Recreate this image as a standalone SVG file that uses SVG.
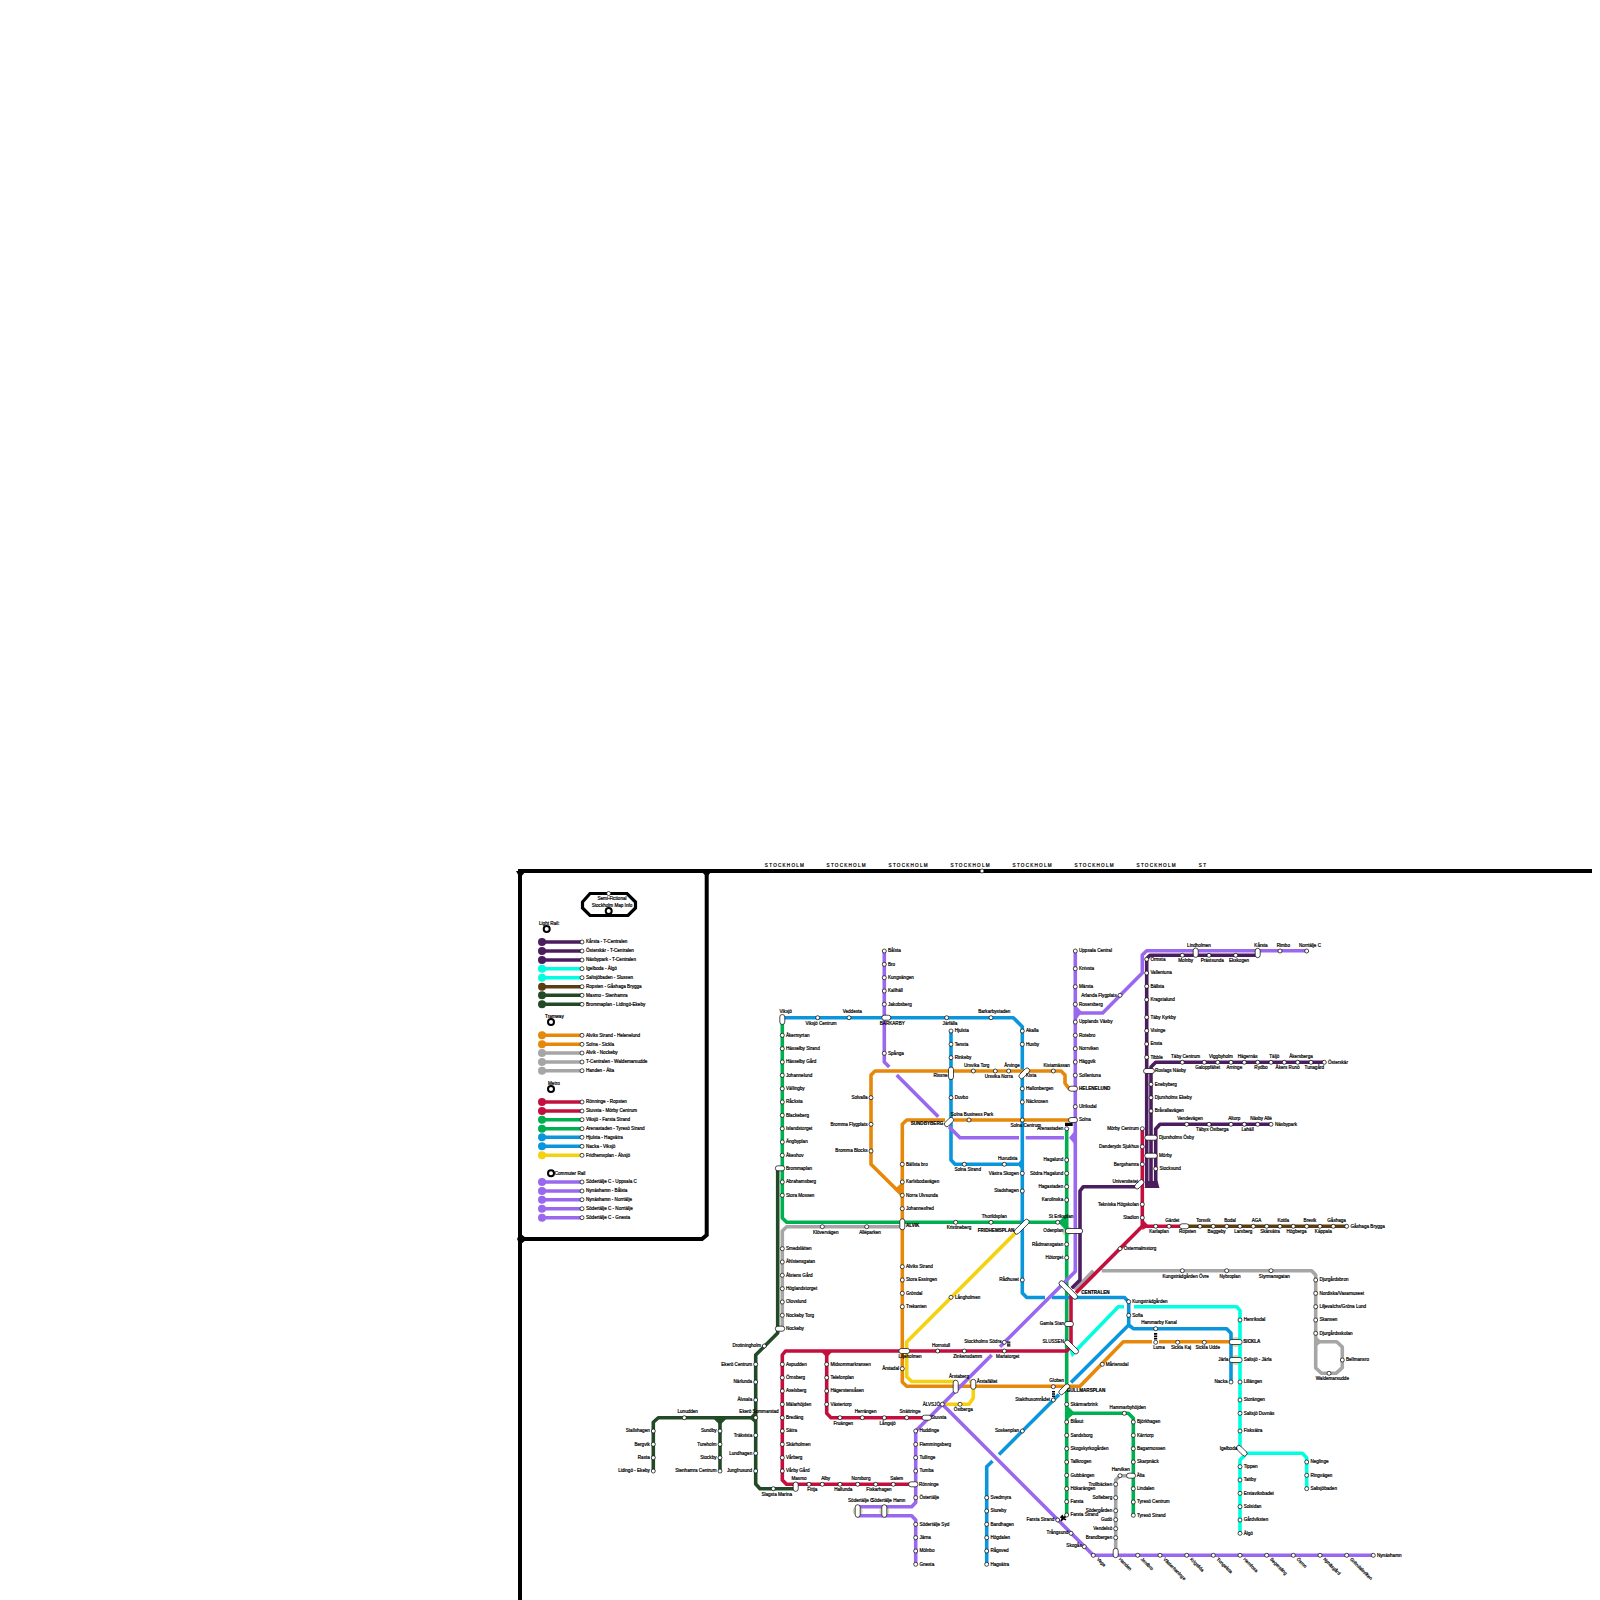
<svg xmlns="http://www.w3.org/2000/svg" width="1600" height="1600" viewBox="0 0 1600 1600">
<style>
text{font-family:"Liberation Sans",Arial,sans-serif;font-size:4.6px;fill:#000;stroke:#000;stroke-width:.2}
.r{text-anchor:start}.e{text-anchor:end}.m{text-anchor:middle}
.b{font-weight:bold}
.s{fill:#fff;stroke:#000;stroke-width:.7}
.p{fill:#fff;stroke:#000;stroke-width:.7}
.ring{fill:#fff;stroke:#000;stroke-width:2}
.l{fill:none;stroke-width:3.6;stroke-linejoin:round}
.f{fill:none;stroke:#000;stroke-width:4}
.st{font-size:4.6px;letter-spacing:1.25px;text-anchor:middle}
.dp{stroke:#4b1d5e}.cy{stroke:#00ffe1}.br{stroke:#5c3d12}.dg{stroke:#234a26}.or{stroke:#e6880a}.gy{stroke:#a6a6a6}.rd{stroke:#c20f3e}.gn{stroke:#00b050}.bl{stroke:#0b96dc}.ye{stroke:#f5d210}.pu{stroke:#9a68ee}
.fdp{fill:#4b1d5e}.fcy{fill:#00ffe1}.fbr{fill:#5c3d12}.fdg{fill:#234a26}.for{fill:#e6880a}.fgy{fill:#a6a6a6}.frd{fill:#c20f3e}.fgn{fill:#00b050}.fbl{fill:#0b96dc}.fye{fill:#f5d210}.fpu{fill:#9a68ee}
.h{fill:#cfdcaa}
</style>

<g id="frame">
<path class="f" d="M520 1600V871H1592"/>
<path class="f" d="M706.7 871V1235L702 1239H520"/>
<polygon fill="#000" points="516,871 526,871 520,878"/>
<polygon fill="#000" points="701,871 712,871 706.7,877"/>
<polygon fill="#000" points="520,1233 527,1239 520,1245 517,1239"/>
<circle class="s" cx="982" cy="871" r="2"/>
<text class="st" x="785" y="866.5">STOCKHOLM</text>
<text class="st" x="846.7" y="866.5">STOCKHOLM</text>
<text class="st" x="908.7" y="866.5">STOCKHOLM</text>
<text class="st" x="970.7" y="866.5">STOCKHOLM</text>
<text class="st" x="1032.7" y="866.5">STOCKHOLM</text>
<text class="st" x="1094.7" y="866.5">STOCKHOLM</text>
<text class="st" x="1156.7" y="866.5">STOCKHOLM</text>
<text class="st" x="1203" y="866.5">ST</text>
</g>

<g id="legend">
<g id="legend-title">
<path d="M590 893.5H627L635.5 902V908L628 915.5H590L582.5 908V902Z" fill="#fff" stroke="#000" stroke-width="3.2"/>
<circle class="s" cx="608.7" cy="893.5" r="2"/>
<circle class="ring" cx="608.7" cy="911" r="3"/>
<text class="m" x="612" y="900">Semi-Fictional</text>
<text class="m" x="612" y="906.6">Stockholm Map Info</text>
</g>
<g id="legend-light"><circle class="ring" cx="546.7" cy="929" r="3"/><text class="r" x="539" y="924.6">Light Rail:</text></g>
<g id="legend-tram"><circle class="ring" cx="551" cy="1022" r="3"/><text class="r" x="545" y="1017.6">Tramway</text></g>
<g id="legend-metro"><circle class="ring" cx="551" cy="1089" r="3"/><text class="r" x="548" y="1084.6">Metro</text></g>
<g id="legend-comm"><circle class="ring" cx="551" cy="1173.3" r="3"/><text class="r" x="554.7" y="1174.7">Commuter Rail</text></g>
<g id="k1"><path class="l dp" d="M542 942H582"/><circle class="fdp" cx="542" cy="942" r="4"/><circle class="s" cx="582" cy="942" r="2"/><text class="r" x="586" y="943.4">Kårsta - T-Centralen</text></g>
<g id="k2"><path class="l dp" d="M542 951H582"/><circle class="fdp" cx="542" cy="951" r="4"/><circle class="s" cx="582" cy="951" r="2"/><text class="r" x="586" y="952.4">Österskär - T-Centralen</text></g>
<g id="k3"><path class="l dp" d="M542 960H582"/><circle class="fdp" cx="542" cy="960" r="4"/><circle class="s" cx="582" cy="960" r="2"/><text class="r" x="586" y="961.4">Näsbypark - T-Centralen</text></g>
<g id="k4"><path class="l cy" d="M542 968.7H582"/><circle class="fcy" cx="542" cy="968.7" r="4"/><circle class="s" cx="582" cy="968.7" r="2"/><text class="r" x="586" y="970.1">Igelboda - Älgö</text></g>
<g id="k5"><path class="l cy" d="M542 977.7H582"/><circle class="fcy" cx="542" cy="977.7" r="4"/><circle class="s" cx="582" cy="977.7" r="2"/><text class="r" x="586" y="979.1">Saltsjöbaden - Slussen</text></g>
<g id="k6"><path class="l br" d="M542 986.7H582"/><circle class="fbr" cx="542" cy="986.7" r="4"/><circle class="s" cx="582" cy="986.7" r="2"/><text class="r" x="586" y="988.1">Ropsten - Gåshaga Brygga</text></g>
<g id="k7"><path class="l dg" d="M542 995.3H582"/><circle class="fdg" cx="542" cy="995.3" r="4"/><circle class="s" cx="582" cy="995.3" r="2"/><text class="r" x="586" y="996.7">Masmo - Stenhamra</text></g>
<g id="k8"><path class="l dg" d="M542 1004.3H582"/><circle class="fdg" cx="542" cy="1004.3" r="4"/><circle class="s" cx="582" cy="1004.3" r="2"/><text class="r" x="586" y="1005.7">Brommaplan - Lidingö-Ekeby</text></g>
<g id="k9"><path class="l or" d="M542 1035.3H582"/><circle class="for" cx="542" cy="1035.3" r="4"/><circle class="s" cx="582" cy="1035.3" r="2"/><text class="r" x="586" y="1036.7">Alviks Strand - Helenelund</text></g>
<g id="k10"><path class="l or" d="M542 1044.3H582"/><circle class="for" cx="542" cy="1044.3" r="4"/><circle class="s" cx="582" cy="1044.3" r="2"/><text class="r" x="586" y="1045.7">Solna - Sickla</text></g>
<g id="k11"><path class="l gy" d="M542 1053H582"/><circle class="fgy" cx="542" cy="1053" r="4"/><circle class="s" cx="582" cy="1053" r="2"/><text class="r" x="586" y="1054.4">Alvik - Nockeby</text></g>
<g id="k12"><path class="l gy" d="M542 1062H582"/><circle class="fgy" cx="542" cy="1062" r="4"/><circle class="s" cx="582" cy="1062" r="2"/><text class="r" x="586" y="1063.4">T-Centralen - Waldemarsudde</text></g>
<g id="k13"><path class="l gy" d="M542 1070.7H582"/><circle class="fgy" cx="542" cy="1070.7" r="4"/><circle class="s" cx="582" cy="1070.7" r="2"/><text class="r" x="586" y="1072.1">Handen - Älta</text></g>
<g id="k14"><path class="l rd" d="M542 1102H582"/><circle class="frd" cx="542" cy="1102" r="4"/><circle class="s" cx="582" cy="1102" r="2"/><text class="r" x="586" y="1103.4">Rönninge - Ropsten</text></g>
<g id="k15"><path class="l rd" d="M542 1111H582"/><circle class="frd" cx="542" cy="1111" r="4"/><circle class="s" cx="582" cy="1111" r="2"/><text class="r" x="586" y="1112.4">Stuvsta - Mörby Centrum</text></g>
<g id="k16"><path class="l gn" d="M542 1119.7H582"/><circle class="fgn" cx="542" cy="1119.7" r="4"/><circle class="s" cx="582" cy="1119.7" r="2"/><text class="r" x="586" y="1121.1">Viksjö - Farsta Strand</text></g>
<g id="k17"><path class="l gn" d="M542 1128.7H582"/><circle class="fgn" cx="542" cy="1128.7" r="4"/><circle class="s" cx="582" cy="1128.7" r="2"/><text class="r" x="586" y="1130.1">Arenastaden - Tyresö Strand</text></g>
<g id="k18"><path class="l bl" d="M542 1137.3H582"/><circle class="fbl" cx="542" cy="1137.3" r="4"/><circle class="s" cx="582" cy="1137.3" r="2"/><text class="r" x="586" y="1138.7">Hjulsta - Hagsätra</text></g>
<g id="k19"><path class="l bl" d="M542 1146.3H582"/><circle class="fbl" cx="542" cy="1146.3" r="4"/><circle class="s" cx="582" cy="1146.3" r="2"/><text class="r" x="586" y="1147.7">Nacka - Viksjö</text></g>
<g id="k20"><path class="l ye" d="M542 1155.3H582"/><circle class="fye" cx="542" cy="1155.3" r="4"/><circle class="s" cx="582" cy="1155.3" r="2"/><text class="r" x="586" y="1156.7">Fridhemsplan - Älvsjö</text></g>
<g id="k21"><path class="l pu" d="M542 1182H582"/><circle class="fpu" cx="542" cy="1182" r="4"/><circle class="s" cx="582" cy="1182" r="2"/><text class="r" x="586" y="1183.4">Södertälje C - Uppsala C</text></g>
<g id="k22"><path class="l pu" d="M542 1191H582"/><circle class="fpu" cx="542" cy="1191" r="4"/><circle class="s" cx="582" cy="1191" r="2"/><text class="r" x="586" y="1192.4">Nynäshamn - Bålsta</text></g>
<g id="k23"><path class="l pu" d="M542 1199.7H582"/><circle class="fpu" cx="542" cy="1199.7" r="4"/><circle class="s" cx="582" cy="1199.7" r="2"/><text class="r" x="586" y="1201.1">Nynäshamn - Norrtälje</text></g>
<g id="k24"><path class="l pu" d="M542 1208.7H582"/><circle class="fpu" cx="542" cy="1208.7" r="4"/><circle class="s" cx="582" cy="1208.7" r="2"/><text class="r" x="586" y="1210.1">Södertälje C - Norrtälje</text></g>
<g id="k25"><path class="l pu" d="M542 1217.7H582"/><circle class="fpu" cx="542" cy="1217.7" r="4"/><circle class="s" cx="582" cy="1217.7" r="2"/><text class="r" x="586" y="1219.1">Södertälje C - Gnesta</text></g>
</g>

<g id="connectors">
<ellipse class="h" cx="1067" cy="1231" rx="5" ry="5"/>
<ellipse class="h" cx="1235.7" cy="1342" rx="6" ry="5"/>
<ellipse class="h" cx="1235.7" cy="1360" rx="6" ry="5"/>
<ellipse class="h" cx="857.7" cy="1511" rx="5" ry="5"/>
<ellipse class="h" cx="884.3" cy="1511" rx="5" ry="5"/>
<path class="l dg" d="M777.7 1168.3V1333L755.7 1355V1484L760 1488.7H795.7"/>
<path class="l dg" d="M755.7 1417.7H658.3L653.3 1422.3V1471"/>
<path class="l dg" d="M720 1417.7V1471"/>
<polygon class="fdg" points="712.5,1417.7 720,1425 727.5,1417.7"/>
<polygon class="fdg" points="749,1417.7 755.7,1411 755.7,1424"/>
<path class="l gn" d="M782.3 1019V1218L786.7 1222.3H1066.7"/>
<path class="l gn" d="M1066.7 1128.7V1515"/>
<path class="l gn" d="M1066.7 1413.3H1128.3L1133.3 1418.3V1515.3"/>
<polygon class="fgn" points="1058,1222.3 1066.7,1214 1066.7,1231"/>
<polygon class="fgn" points="1066.7,1405 1075,1413.3 1066.7,1420"/>
<path class="l gy" d="M900 1226.7H786.7L782.3 1231V1328.7"/>
<path class="l gy" d="M1075 1290L1093.3 1270.7M1101.7 1270.7H1311.7L1315.7 1275V1368L1321.7 1373.3H1336L1342.3 1367.7V1347L1336.7 1341.7H1316"/>
<polygon class="fgy" points="1315.7,1336 1322,1341.7 1315.7,1347"/>
<path class="l gy" d="M1115.7 1553V1480L1120 1475.7H1131"/>
<path class="l bl" d="M782.3 1017.7H1013.3L1022.3 1026.7V1293L1026.7 1297.5H1045M1051.7 1297.5H1124.5L1128.7 1302V1325"/>
<path class="l bl" d="M951 1031V1160L955 1164.3H1018"/>
<polygon class="fbl" points="1016.7,1164.3 1022.3,1158.7 1022.3,1169.5"/>
<path class="l bl" d="M1128.7 1325L1133.3 1328.7H1226.7L1231 1333.3V1382"/>
<path class="l bl" d="M1128.7 1325L1071 1382.5M1059 1394.5L999 1454.5M992.5 1461L986.7 1466.7V1564.3"/>
<path class="l or" d="M1073 1088.7H1069L1065 1083.3V1075L1061 1071H875L871 1075V1164.3L902 1195"/>
<polygon class="for" points="896,1188 902.3,1182 902.3,1195"/>
<path class="l or" d="M1073 1120H954M945 1120H906.7L902.3 1124.3V1382L906.7 1386.3H1080L1123.3 1341.7H1152M1159 1341.7H1235.7"/>
<path class="l ye" d="M1021.7 1226.7L906.7 1342V1376.7L911.7 1381.5H955M969 1381.5H973.3V1398L969 1404.3H942.3"/>
<path class="l rd" d="M1142.3 1128.7V1226.3H1184.3"/>
<path class="l rd" d="M1142.3 1226.3L1076 1292.7"/>
<path class="l rd" d="M1071 1292V1346.7L1066.7 1351H785.5L782.3 1355V1480L786.5 1484.3H913.3"/>
<path class="l rd" d="M826.7 1351V1413.3L831 1417.7H926.7"/>
<polygon class="frd" points="820.5,1351 826.7,1357.5 833,1351"/>
<polygon class="frd" points="1142.3,1219 1149,1226.3 1142.3,1230"/>
<path class="l dp" d="M1257 955.3H1150L1146.7 958.7V1186"/>
<path class="l dp" d="M1324.3 1062.3H1155.7L1151 1067V1186"/>
<path class="l dp" d="M1271 1124.3H1160L1155.7 1129V1186"/>
<polygon class="fdp" points="1144.5,1188 1147,1181 1157.5,1181 1159.5,1188"/>
<path class="l dp" d="M1139 1186.7H1083.3L1080 1191V1280L1071.7 1288.3"/>
<path class="l br" d="M1184.3 1226.3H1346.7"/>
<path class="l cy" d="M1071.7 1355L1118.3 1306.7H1124M1134 1306.7H1236.7L1240 1310.7V1447"/>
<path class="l cy" d="M1241.7 1453.3H1302.3L1306.7 1457.7V1488.7"/>
<path class="l cy" d="M1245 1455L1240 1460V1533.3"/>
<polygon class="fcy" points="1069.5,1350 1076,1350 1072,1357.5"/>
<path class="l pu" d="M915.7 1431L991.7 1355M1000 1346.7L1075.3 1271.4V951"/>
<path class="l pu" d="M942.3 1404.3L1093.3 1555.3H1373.3"/>
<path class="l pu" d="M915.7 1431V1502.5L911.7 1506.7H857.7"/>
<path class="l pu" d="M857.7 1515.7H911.7L915.7 1520V1564.3"/>
<path class="l pu" d="M1075.3 1013H1102.7L1142.3 973V955L1146.7 950.7H1306.7"/>
<polygon class="fpu" points="1075.3,1005 1082,1012 1075.3,1021"/>
<path class="l pu" d="M1064 1137.7H1025.7M1019 1137.7H960L949 1126.7M938.3 1116.7L896.7 1075M889.3 1067L884.3 1062V951"/>
<polygon class="fpu" points="1075.3,1130 1069,1137.7 1075.3,1145"/>
<rect fill="#000" x="1065" y="1122.7" width="7.7" height="3.3"/>
<path fill="#000" d="M1007 1341.5h3.4v1.3h-3.4zM1007 1343.4h3.4v1.3h-3.4zM1007 1345.3h3.4v1.3h-3.4zM1052 1391h3v1.5h-3zM1052 1393.2h3v1.5h-3zM1052 1395.4h3v1.5h-3zM1154 1333h3.2v1.7h-3.2zM1154 1335.4h3.2v1.7h-3.2zM1154 1337.8h3.2v1.7h-3.2z"/>
<path fill="#000" d="M1060.5 1516.5l2-2 1 2 2.5-1 .5 1.5-2 1.5 2 .5-1 1.5-2-1-2 2-1-1 1-2-1.5-1z"/>
</g>

<g id="nodes">
<g id="n1"><rect class="p" x="779.8" y="1014.5" width="5" height="10" rx="2.5"/><text class="m" x="785.7" y="1013">Viksjö</text></g>
<g id="n2"><circle class="s" cx="817.7" cy="1017.7" r="2"/><text class="m" x="821" y="1024.7">Viksjö Centrum</text></g>
<g id="n3"><circle class="s" cx="849" cy="1017.7" r="2"/><text class="m" x="852.3" y="1013.4">Veddesta</text></g>
<g id="n4"><rect class="p" x="881.8" y="1015.2" width="9" height="5" rx="2.5"/><text class="m" x="892.3" y="1024.7">BARKARBY</text></g>
<g id="n5"><circle class="s" cx="946.7" cy="1017.7" r="2"/><text class="m" x="950" y="1024.7">Järfälla</text></g>
<g id="n6"><circle class="s" cx="991" cy="1017.7" r="2"/><text class="m" x="994.3" y="1013.4">Barkarbystaden</text></g>
<g id="n7"><circle class="s" cx="1022.3" cy="1031" r="2"/><text class="r" x="1026" y="1032.4">Akalla</text></g>
<g id="n8"><circle class="s" cx="1022.3" cy="1044.3" r="2"/><text class="r" x="1026" y="1045.7">Husby</text></g>
<g id="n9"><rect class="p" x="1017.8" y="1070.8" width="13" height="5" rx="2.5" transform="rotate(-45 1024.3 1073.3)"/><text class="r" x="1026" y="1076.7">Kista</text></g>
<g id="n10"><circle class="s" cx="1022.3" cy="1088.7" r="2"/><text class="r" x="1026" y="1090.1">Hallonbergen</text></g>
<g id="n11"><circle class="s" cx="1022.3" cy="1102" r="2"/><text class="r" x="1026" y="1103.4">Näckrosen</text></g>
<g id="n12"><circle class="s" cx="1022.3" cy="1120" r="2"/><text class="m" x="1025.7" y="1127">Solna Centrum</text></g>
<g id="n13"><circle class="s" cx="1022.3" cy="1173.3" r="2"/><text class="e" x="1018.8" y="1174.7">Västra Skogen</text></g>
<g id="n14"><circle class="s" cx="1022.3" cy="1191" r="2"/><text class="e" x="1018.8" y="1192.4">Stadshagen</text></g>
<g id="n15"><rect class="p" x="1012.2" y="1224.2" width="19" height="5" rx="2.5" transform="rotate(-45 1021.7 1226.7)"/><text class="e b" x="1014.3" y="1231.7">FRIDHEMSPLAN</text></g>
<g id="n16"><circle class="s" cx="1022.3" cy="1280" r="2"/><text class="e" x="1018.8" y="1281.4">Rådhuset</text></g>
<g id="n17"><circle class="s" cx="1128.7" cy="1301.7" r="2"/><text class="r" x="1132.3" y="1303.1">Kungsträdgården</text></g>
<g id="n18"><circle class="s" cx="1128.7" cy="1315.3" r="2"/><text class="r" x="1132.3" y="1316.7">Sofia</text></g>
<g id="n19"><circle class="s" cx="1155.7" cy="1328.7" r="2"/><text class="m" x="1159" y="1324.4">Hammarby Kanal</text></g>
<g id="n20"><circle class="s" cx="1231" cy="1382" r="2"/><text class="e" x="1227.5" y="1383.4">Nacka</text></g>
<g id="n21"><circle class="s" cx="1053.3" cy="1400" r="2"/><text class="e" x="1050" y="1401.1">Stakthusområdet</text></g>
<g id="n22"><circle class="s" cx="1022.3" cy="1431" r="2"/><text class="e" x="1019" y="1432.4">Soskenplan</text></g>
<g id="n23"><circle class="s" cx="986.7" cy="1497.7" r="2"/><text class="r" x="990.4" y="1499.1">Svedmyra</text></g>
<g id="n24"><circle class="s" cx="986.7" cy="1511" r="2"/><text class="r" x="990.4" y="1512.4">Stureby</text></g>
<g id="n25"><circle class="s" cx="986.7" cy="1524.3" r="2"/><text class="r" x="990.4" y="1525.7">Bandhagen</text></g>
<g id="n26"><circle class="s" cx="986.7" cy="1537.7" r="2"/><text class="r" x="990.4" y="1539.1">Högdalen</text></g>
<g id="n27"><circle class="s" cx="986.7" cy="1551" r="2"/><text class="r" x="990.4" y="1552.4">Rågsved</text></g>
<g id="n28"><circle class="s" cx="986.7" cy="1564.3" r="2"/><text class="r" x="990.4" y="1565.7">Hagsätra</text></g>
<g id="n29"><circle class="s" cx="951" cy="1031" r="2"/><text class="r" x="954.7" y="1032.4">Hjulsta</text></g>
<g id="n30"><circle class="s" cx="951" cy="1044.3" r="2"/><text class="r" x="954.7" y="1045.7">Tensta</text></g>
<g id="n31"><circle class="s" cx="951" cy="1057.7" r="2"/><text class="r" x="954.7" y="1059.1">Rinkeby</text></g>
<g id="n32"><rect class="p" x="948.5" y="1067" width="5" height="12.6" rx="2.5"/><text class="e" x="947.5" y="1076.6">Rissne</text></g>
<g id="n33"><circle class="s" cx="951" cy="1097.7" r="2"/><text class="r" x="954.7" y="1099.1">Duvbo</text></g>
<g id="n34"><rect class="p" x="943.5" y="1119.5" width="11" height="5" rx="2.5" transform="rotate(-45 949 1122)"/><text class="e b" x="943.3" y="1125.4">SUNDBYBERG</text></g>
<g id="n35"><circle class="s" cx="964.3" cy="1164.3" r="2"/><text class="m" x="967.7" y="1171.3">Solna Strand</text></g>
<g id="n36"><circle class="s" cx="1004.3" cy="1164.3" r="2"/><text class="m" x="1007.7" y="1160">Huvudsta</text></g>
<g id="n37"><circle class="s" cx="973.3" cy="1071" r="2"/><text class="m" x="976.7" y="1066.7">Ursvika Torg</text></g>
<g id="n38"><circle class="s" cx="995.3" cy="1071" r="2"/><text class="m" x="998.7" y="1078">Ursvika Norra</text></g>
<g id="n39"><circle class="s" cx="1008.7" cy="1071" r="2"/><text class="m" x="1012" y="1066.7">Årvinge</text></g>
<g id="n40"><circle class="s" cx="1053.3" cy="1071" r="2"/><text class="m" x="1056.7" y="1066.7">Kistamässan</text></g>
<g id="n41"><circle class="s" cx="871" cy="1097.7" r="2"/><text class="e" x="867.5" y="1099.1">Solvalla</text></g>
<g id="n42"><circle class="s" cx="871" cy="1124.3" r="2"/><text class="e" x="867.5" y="1125.7">Bromma Flygplats</text></g>
<g id="n43"><circle class="s" cx="871" cy="1151" r="2"/><text class="e" x="867.5" y="1152.4">Bromma Blocks</text></g>
<g id="n44"><rect class="p" x="1068.5" y="1086.2" width="9" height="5" rx="2.5"/><text class="r b" x="1079" y="1090.1">HELENELUND</text></g>
<g id="n45"><rect class="p" x="1068.5" y="1117.5" width="9" height="5" rx="2.5"/><text class="r" x="1079" y="1121.4">Solna</text></g>
<g id="n46"><circle class="s" cx="969" cy="1120" r="2"/><text class="m" x="972" y="1115.7">Solna Business Park</text></g>
<g id="n47"><circle class="s" cx="902.3" cy="1164.3" r="2"/><text class="r" x="906" y="1165.7">Bällsta bro</text></g>
<g id="n48"><circle class="s" cx="902.3" cy="1182" r="2"/><text class="r" x="906" y="1183.4">Karlsbodavägen</text></g>
<g id="n49"><circle class="s" cx="902.3" cy="1195.3" r="2"/><text class="r" x="906" y="1196.7">Norra Ulvsunda</text></g>
<g id="n50"><circle class="s" cx="902.3" cy="1208.7" r="2"/><text class="r" x="906" y="1210.1">Johannesfred</text></g>
<g id="n51"><rect class="p" x="899.8" y="1218.8" width="5" height="11" rx="2.5"/><text class="r b" x="906" y="1227">ALVIK</text></g>
<g id="n52"><circle class="s" cx="902.3" cy="1266.7" r="2"/><text class="r" x="906" y="1268.1">Alviks Strand</text></g>
<g id="n53"><circle class="s" cx="902.3" cy="1280" r="2"/><text class="r" x="906" y="1281.4">Stora Essingen</text></g>
<g id="n54"><circle class="s" cx="902.3" cy="1293.3" r="2"/><text class="r" x="906" y="1294.7">Gröndal</text></g>
<g id="n55"><circle class="s" cx="902.3" cy="1306.7" r="2"/><text class="r" x="906" y="1308.1">Trekanten</text></g>
<g id="n56"><rect class="p" x="898.8" y="1348.5" width="11" height="5" rx="2.5"/><text class="m" x="910" y="1358">Liljeholmen</text></g>
<g id="n57"><circle class="s" cx="902.3" cy="1368.7" r="2"/><text class="e" x="899" y="1370.1">Årstadal</text></g>
<g id="n58"><rect class="p" x="953.2" y="1380.2" width="5" height="13" rx="2.5"/><text class="m" x="959" y="1377.7">Årstaberg</text></g>
<g id="n59"><rect class="p" x="970.8" y="1379.3" width="5" height="10" rx="2.5"/><text class="r" x="976.7" y="1383">Årstafältet</text></g>
<g id="n60"><circle class="s" cx="1053.3" cy="1386.7" r="2"/><text class="m" x="1056.7" y="1382.4">Globen</text></g>
<g id="n61"><rect class="p" x="1057.8" y="1386.8" width="13" height="5" rx="2.5" transform="rotate(-45 1064.3 1389.3)"/><text class="r b" x="1066.7" y="1392.2">GULLMARSPLAN</text></g>
<g id="n62"><circle class="s" cx="1102.3" cy="1364.3" r="2"/><text class="r" x="1105.7" y="1365.7">Mårtensdal</text></g>
<g id="n63"><circle class="s" cx="1155.7" cy="1342.3" r="2"/><text class="m" x="1159" y="1348.7">Luma</text></g>
<g id="n64"><circle class="s" cx="1177.7" cy="1342.3" r="2"/><text class="m" x="1181" y="1348.7">Sickla Kaj</text></g>
<g id="n65"><circle class="s" cx="1204.3" cy="1342.3" r="2"/><text class="m" x="1207.7" y="1348.7">Sickla Udde</text></g>
<g id="n66"><rect class="p" x="1229.2" y="1339.5" width="13" height="5" rx="2.5"/><text class="r b" x="1243.3" y="1343.4">SICKLA</text></g>
<g id="n67"><rect class="p" x="1229.2" y="1357.5" width="13" height="5" rx="2.5"/><text class="e" x="1228.3" y="1361.4">Järla</text><text class="r" x="1243.7" y="1361.4">Saltsjö - Järla</text></g>
<g id="n68"><circle class="s" cx="951" cy="1297.3" r="2"/><text class="r" x="955" y="1298.7">Långholmen</text></g>
<g id="n69"><circle class="s" cx="960" cy="1404.3" r="2"/><text class="m" x="963.3" y="1411">Östberga</text></g>
<g id="n70"><circle class="s" cx="942.3" cy="1404.3" r="2"/><text class="e" x="940" y="1405.7">ÄLVSJÖ</text></g>
<g id="n71"><circle class="s" cx="782.3" cy="1035.3" r="2"/><text class="r" x="786" y="1036.7">Åkermyrtan</text></g>
<g id="n72"><circle class="s" cx="782.3" cy="1048.7" r="2"/><text class="r" x="786" y="1050.1">Hässelby Strand</text></g>
<g id="n73"><circle class="s" cx="782.3" cy="1062" r="2"/><text class="r" x="786" y="1063.4">Hässelby Gård</text></g>
<g id="n74"><circle class="s" cx="782.3" cy="1075.3" r="2"/><text class="r" x="786" y="1076.7">Johannelund</text></g>
<g id="n75"><circle class="s" cx="782.3" cy="1088.7" r="2"/><text class="r" x="786" y="1090.1">Vällingby</text></g>
<g id="n76"><circle class="s" cx="782.3" cy="1102" r="2"/><text class="r" x="786" y="1103.4">Råcksta</text></g>
<g id="n77"><circle class="s" cx="782.3" cy="1115.3" r="2"/><text class="r" x="786" y="1116.7">Blackeberg</text></g>
<g id="n78"><circle class="s" cx="782.3" cy="1128.7" r="2"/><text class="r" x="786" y="1130.1">Islandstorget</text></g>
<g id="n79"><circle class="s" cx="782.3" cy="1142" r="2"/><text class="r" x="786" y="1143.4">Ängbyplan</text></g>
<g id="n80"><circle class="s" cx="782.3" cy="1155.3" r="2"/><text class="r" x="786" y="1156.7">Åkeshov</text></g>
<g id="n81"><rect class="p" x="775.3" y="1165.8" width="9.4" height="5" rx="2.5"/><text class="r" x="786" y="1169.7">Brommaplan</text></g>
<g id="n82"><circle class="s" cx="782.3" cy="1182" r="2"/><text class="r" x="786" y="1183.4">Abrahamsberg</text></g>
<g id="n83"><circle class="s" cx="782.3" cy="1195.3" r="2"/><text class="r" x="786" y="1196.7">Stora Mossen</text></g>
<g id="n84"><circle class="s" cx="955.7" cy="1222.3" r="2"/><text class="m" x="959" y="1229.3">Kristineberg</text></g>
<g id="n85"><circle class="s" cx="991" cy="1222.3" r="2"/><text class="m" x="994.3" y="1218">Thorildsplan</text></g>
<g id="n86"><circle class="s" cx="1057.7" cy="1222.3" r="2"/><text class="m" x="1061" y="1218">St Eriksplan</text></g>
<g id="n87"><rect class="p" x="1065.3" y="1228.5" width="17.4" height="5" rx="2.5"/><text class="e" x="1063.3" y="1232.4">Odenplan</text></g>
<g id="n88"><circle class="s" cx="1066.7" cy="1244.3" r="2"/><text class="e" x="1063.2" y="1245.7">Rådmansgatan</text></g>
<g id="n89"><circle class="s" cx="1066.7" cy="1257.7" r="2"/><text class="e" x="1063.2" y="1259.1">Hötorget</text></g>
<g id="n90"><rect class="p" x="1056.3" y="1287.5" width="24" height="5" rx="2.5" transform="rotate(45 1068.3 1290)"/><text class="r b" x="1081.3" y="1294.3">CENTRALEN</text></g>
<g id="n91"><rect class="p" x="1064.5" y="1321.5" width="9" height="5" rx="2.5"/><text class="e" x="1064" y="1325.4">Gamla Stan</text></g>
<g id="n92"><rect class="p" x="1062.7" y="1344.5" width="17.6" height="5" rx="2.5" transform="rotate(45 1071.5 1347)"/><text class="e" x="1064" y="1343.1">SLUSSEN</text></g>
<g id="n93"><circle class="s" cx="1066.7" cy="1128.7" r="2"/><text class="e" x="1063.3" y="1130.1">Arenastaden</text></g>
<g id="n94"><circle class="s" cx="1066.7" cy="1160" r="2"/><text class="e" x="1063.2" y="1161.4">Hagalund</text></g>
<g id="n95"><circle class="s" cx="1066.7" cy="1173.3" r="2"/><text class="e" x="1063.2" y="1174.7">Södra Hagalund</text></g>
<g id="n96"><circle class="s" cx="1066.7" cy="1186.7" r="2"/><text class="e" x="1063.2" y="1188.1">Hagastaden</text></g>
<g id="n97"><circle class="s" cx="1066.7" cy="1200" r="2"/><text class="e" x="1063.2" y="1201.4">Karolinska</text></g>
<g id="n98"><circle class="s" cx="1066.7" cy="1404.3" r="2"/><text class="r" x="1070.4" y="1405.7">Skärmarbrink</text></g>
<g id="n99"><circle class="s" cx="1066.7" cy="1422" r="2"/><text class="r" x="1070.4" y="1423.4">Blåsut</text></g>
<g id="n100"><circle class="s" cx="1066.7" cy="1435.3" r="2"/><text class="r" x="1070.4" y="1436.7">Sandsborg</text></g>
<g id="n101"><circle class="s" cx="1066.7" cy="1448.7" r="2"/><text class="r" x="1070.4" y="1450.1">Skogskyrkogården</text></g>
<g id="n102"><circle class="s" cx="1066.7" cy="1462" r="2"/><text class="r" x="1070.4" y="1463.4">Tallkrogen</text></g>
<g id="n103"><circle class="s" cx="1066.7" cy="1475.3" r="2"/><text class="r" x="1070.4" y="1476.7">Gubbängen</text></g>
<g id="n104"><circle class="s" cx="1066.7" cy="1488.7" r="2"/><text class="r" x="1070.4" y="1490.1">Hökarängen</text></g>
<g id="n105"><circle class="s" cx="1066.7" cy="1501.7" r="2"/><text class="r" x="1070.4" y="1503.1">Farsta</text></g>
<g id="n106"><circle class="s" cx="1066.7" cy="1515" r="2"/><text class="r" x="1070.4" y="1516.4">Farsta Strand</text></g>
<g id="n107"><circle class="s" cx="1124.3" cy="1413.3" r="2"/><text class="m" x="1127.7" y="1409">Hammarbyhöjden</text></g>
<g id="n108"><circle class="s" cx="1133.3" cy="1422" r="2"/><text class="r" x="1137" y="1423.4">Björkhagen</text></g>
<g id="n109"><circle class="s" cx="1133.3" cy="1435.3" r="2"/><text class="r" x="1137" y="1436.7">Kärrtorp</text></g>
<g id="n110"><circle class="s" cx="1133.3" cy="1448.7" r="2"/><text class="r" x="1137" y="1450.1">Bagarmossen</text></g>
<g id="n111"><circle class="s" cx="1133.3" cy="1462" r="2"/><text class="r" x="1137" y="1463.4">Skarpnäck</text></g>
<g id="n112"><rect class="p" x="1126.5" y="1473.2" width="9" height="5" rx="2.5"/><text class="r" x="1136.7" y="1477.1">Älta</text></g>
<g id="n113"><circle class="s" cx="1133.3" cy="1488.7" r="2"/><text class="r" x="1137" y="1490.1">Lindalen</text></g>
<g id="n114"><circle class="s" cx="1133.3" cy="1502" r="2"/><text class="r" x="1137" y="1503.4">Tyresö Centrum</text></g>
<g id="n115"><circle class="s" cx="1133.3" cy="1515.3" r="2"/><text class="r" x="1137" y="1516.7">Tyresö Strand</text></g>
<g id="n116"><circle class="s" cx="1120" cy="1475.7" r="2"/><text class="m" x="1120.7" y="1471">Harviken</text></g>
<g id="n117"><circle class="s" cx="1115.7" cy="1484.3" r="2"/><text class="e" x="1112.2" y="1485.7">Trollbäcken</text></g>
<g id="n118"><circle class="s" cx="1115.7" cy="1497.7" r="2"/><text class="e" x="1112.2" y="1499.1">Sofieberg</text></g>
<g id="n119"><circle class="s" cx="1115.7" cy="1510.7" r="2"/><text class="e" x="1112.2" y="1512.1">Södergården</text></g>
<g id="n120"><circle class="s" cx="1115.7" cy="1519.7" r="2"/><text class="e" x="1112.2" y="1521.1">Gudö</text></g>
<g id="n121"><circle class="s" cx="1115.7" cy="1528.7" r="2"/><text class="e" x="1112.2" y="1530.1">Vendelsö</text></g>
<g id="n122"><circle class="s" cx="1115.7" cy="1537.7" r="2"/><text class="e" x="1112.2" y="1539.1">Brandbergen</text></g>
<g id="n124"><circle class="s" cx="1182.3" cy="1270.7" r="2"/><text class="m" x="1185.7" y="1277.7">Kungsträdgården Övre</text></g>
<g id="n125"><circle class="s" cx="1226.7" cy="1270.7" r="2"/><text class="m" x="1230" y="1277.7">Nybroplan</text></g>
<g id="n126"><circle class="s" cx="1271" cy="1270.7" r="2"/><text class="m" x="1274.3" y="1277.7">Styrmansgatan</text></g>
<g id="n127"><circle class="s" cx="1315.7" cy="1280" r="2"/><text class="r" x="1319.4" y="1281.4">Djurgårdsbron</text></g>
<g id="n128"><circle class="s" cx="1315.7" cy="1293.3" r="2"/><text class="r" x="1319.4" y="1294.7">Nordiska/Vasamuseet</text></g>
<g id="n129"><circle class="s" cx="1315.7" cy="1306.7" r="2"/><text class="r" x="1319.4" y="1308.1">Liljevalchs/Gröna Lund</text></g>
<g id="n130"><circle class="s" cx="1315.7" cy="1320" r="2"/><text class="r" x="1319.4" y="1321.4">Skansen</text></g>
<g id="n131"><circle class="s" cx="1315.7" cy="1333.3" r="2"/><text class="r" x="1319.4" y="1334.7">Djurgårdsskolan</text></g>
<g id="n132"><circle class="s" cx="1342.3" cy="1360" r="2"/><text class="r" x="1346" y="1361.4">Bellmansro</text></g>
<g id="n133"><circle class="s" cx="1329" cy="1373.3" r="2"/><text class="m" x="1332.3" y="1380">Waldemarsudde</text></g>
<g id="n134"><circle class="s" cx="822.3" cy="1226.7" r="2"/><text class="m" x="825.7" y="1233.7">Klövervägen</text></g>
<g id="n135"><circle class="s" cx="866.7" cy="1226.7" r="2"/><text class="m" x="870" y="1233.7">Alléparken</text></g>
<g id="n136"><circle class="s" cx="782.3" cy="1248.7" r="2"/><text class="r" x="786" y="1250.1">Smedslätten</text></g>
<g id="n137"><circle class="s" cx="782.3" cy="1262" r="2"/><text class="r" x="786" y="1263.4">Ählstensgatan</text></g>
<g id="n138"><circle class="s" cx="782.3" cy="1275.3" r="2"/><text class="r" x="786" y="1276.7">Ålstens Gård</text></g>
<g id="n139"><circle class="s" cx="782.3" cy="1288.7" r="2"/><text class="r" x="786" y="1290.1">Höglandstorget</text></g>
<g id="n140"><circle class="s" cx="782.3" cy="1302" r="2"/><text class="r" x="786" y="1303.4">Olovslund</text></g>
<g id="n141"><circle class="s" cx="782.3" cy="1315.3" r="2"/><text class="r" x="786" y="1316.7">Nockeby Torg</text></g>
<g id="n142"><rect class="p" x="775.3" y="1326.2" width="9.4" height="5" rx="2.5"/><text class="r" x="786" y="1330.1">Nockeby</text></g>
<g id="n143"><circle class="s" cx="764.3" cy="1346" r="2"/><text class="e" x="761" y="1347.4">Drottningholm</text></g>
<g id="n144"><circle class="s" cx="755.7" cy="1364.3" r="2"/><text class="e" x="752.2" y="1365.7">Ekerö Centrum</text></g>
<g id="n145"><circle class="s" cx="755.7" cy="1382" r="2"/><text class="e" x="752.2" y="1383.4">Närlunda</text></g>
<g id="n146"><circle class="s" cx="755.7" cy="1400" r="2"/><text class="e" x="752.2" y="1401.4">Älvsala</text></g>
<g id="n147"><circle class="s" cx="755.7" cy="1417.7" r="2"/><text class="m" x="759" y="1413.4">Ekerö Sommarstad</text></g>
<g id="n148"><circle class="s" cx="755.7" cy="1435.3" r="2"/><text class="e" x="752.2" y="1436.7">Träkvista</text></g>
<g id="n149"><circle class="s" cx="755.7" cy="1453.3" r="2"/><text class="e" x="752.2" y="1454.7">Lundhagen</text></g>
<g id="n150"><circle class="s" cx="755.7" cy="1471" r="2"/><text class="e" x="752.2" y="1472.4">Jungfrusund</text></g>
<g id="n151"><circle class="s" cx="773.3" cy="1488.7" r="2"/><text class="m" x="776.7" y="1495.7">Slagsta Marina</text></g>
<g id="n152"><circle class="s" cx="684.3" cy="1417.7" r="2"/><text class="m" x="687.7" y="1413.4">Lunudden</text></g>
<g id="n153"><circle class="s" cx="653.3" cy="1431" r="2"/><text class="e" x="649.8" y="1432.4">Stallshagen</text></g>
<g id="n154"><circle class="s" cx="653.3" cy="1444.3" r="2"/><text class="e" x="649.8" y="1445.7">Bergvik</text></g>
<g id="n155"><circle class="s" cx="653.3" cy="1457.7" r="2"/><text class="e" x="649.8" y="1459.1">Rasta</text></g>
<g id="n156"><circle class="s" cx="653.3" cy="1471" r="2"/><text class="e" x="649.8" y="1472.4">Lidingö - Ekeby</text></g>
<g id="n157"><circle class="s" cx="720" cy="1431" r="2"/><text class="e" x="716.5" y="1432.4">Sundby</text></g>
<g id="n158"><circle class="s" cx="720" cy="1444.3" r="2"/><text class="e" x="716.5" y="1445.7">Tureholm</text></g>
<g id="n159"><circle class="s" cx="720" cy="1457.7" r="2"/><text class="e" x="716.5" y="1459.1">Stockby</text></g>
<g id="n160"><circle class="s" cx="720" cy="1471" r="2"/><text class="e" x="716.5" y="1472.4">Stenhamra Centrum</text></g>
<g id="n161"><circle class="s" cx="782.3" cy="1364.3" r="2"/><text class="r" x="786" y="1365.7">Aspudden</text></g>
<g id="n162"><circle class="s" cx="782.3" cy="1377.7" r="2"/><text class="r" x="786" y="1379.1">Örnsberg</text></g>
<g id="n163"><circle class="s" cx="782.3" cy="1391" r="2"/><text class="r" x="786" y="1392.4">Axelsberg</text></g>
<g id="n164"><circle class="s" cx="782.3" cy="1404.3" r="2"/><text class="r" x="786" y="1405.7">Mälarhöjden</text></g>
<g id="n165"><circle class="s" cx="782.3" cy="1417.7" r="2"/><text class="r" x="786" y="1419.1">Bredäng</text></g>
<g id="n166"><circle class="s" cx="782.3" cy="1431" r="2"/><text class="r" x="786" y="1432.4">Sätra</text></g>
<g id="n167"><circle class="s" cx="782.3" cy="1444.3" r="2"/><text class="r" x="786" y="1445.7">Skärholmen</text></g>
<g id="n168"><circle class="s" cx="782.3" cy="1457.7" r="2"/><text class="r" x="786" y="1459.1">Vårberg</text></g>
<g id="n169"><circle class="s" cx="782.3" cy="1471" r="2"/><text class="r" x="786" y="1472.4">Vårby Gård</text></g>
<g id="n170"><rect class="p" x="793.2" y="1482" width="5" height="9.4" rx="2.5"/><text class="m" x="799" y="1480">Masmo</text></g>
<g id="n171"><circle class="s" cx="809" cy="1484.3" r="2"/><text class="m" x="812.3" y="1491.4">Fittja</text></g>
<g id="n172"><circle class="s" cx="822.3" cy="1484.3" r="2"/><text class="m" x="825.7" y="1480">Alby</text></g>
<g id="n173"><circle class="s" cx="840" cy="1484.3" r="2"/><text class="m" x="843.3" y="1491.4">Hallunda</text></g>
<g id="n174"><circle class="s" cx="857.7" cy="1484.3" r="2"/><text class="m" x="861" y="1480">Norsborg</text></g>
<g id="n175"><circle class="s" cx="875.7" cy="1484.3" r="2"/><text class="m" x="879" y="1491.4">Fiskarhagen</text></g>
<g id="n176"><circle class="s" cx="893.3" cy="1484.3" r="2"/><text class="m" x="896.7" y="1480">Salem</text></g>
<g id="n177"><rect class="p" x="908.6" y="1481.8" width="9.4" height="5" rx="2.5"/><text class="r" x="919" y="1485.7">Rönninge</text></g>
<g id="n178"><circle class="s" cx="826.7" cy="1364.3" r="2"/><text class="r" x="830.4" y="1365.7">Midsommarkransen</text></g>
<g id="n179"><circle class="s" cx="826.7" cy="1377.7" r="2"/><text class="r" x="830.4" y="1379.1">Telefonplan</text></g>
<g id="n180"><circle class="s" cx="826.7" cy="1391" r="2"/><text class="r" x="830.4" y="1392.4">Hägerstensåsen</text></g>
<g id="n181"><circle class="s" cx="826.7" cy="1404.3" r="2"/><text class="r" x="830.4" y="1405.7">Västertorp</text></g>
<g id="n182"><circle class="s" cx="840" cy="1417.7" r="2"/><text class="m" x="843.3" y="1424.7">Fruängen</text></g>
<g id="n183"><circle class="s" cx="862.3" cy="1417.7" r="2"/><text class="m" x="865.6" y="1413.4">Herrängen</text></g>
<g id="n184"><circle class="s" cx="884.3" cy="1417.7" r="2"/><text class="m" x="887.6" y="1424.7">Långsjö</text></g>
<g id="n185"><circle class="s" cx="906.7" cy="1417.7" r="2"/><text class="m" x="910" y="1413.4">Snättringe</text></g>
<g id="n186"><rect class="p" x="922" y="1415.2" width="9.4" height="5" rx="2.5"/><text class="r" x="931" y="1419.1">Stuvsta</text></g>
<g id="n187"><circle class="s" cx="937.7" cy="1351" r="2"/><text class="m" x="941" y="1346.7">Hornstull</text></g>
<g id="n188"><circle class="s" cx="964.3" cy="1351" r="2"/><text class="m" x="967.7" y="1358">Zinkensdamm</text></g>
<g id="n189"><circle class="s" cx="1004.3" cy="1351" r="2"/><text class="m" x="1007.7" y="1358">Mariatorget</text></g>
<g id="n190"><circle class="s" cx="1004.3" cy="1342.3" r="2"/><text class="e" x="1001.5" y="1343.4">Stockholms Södra</text></g>
<g id="n191"><circle class="s" cx="1120" cy="1248.7" r="2"/><text class="r" x="1123.7" y="1250.1">Östermalmstorg</text></g>
<g id="n192"><circle class="s" cx="1142.3" cy="1128.7" r="2"/><text class="e" x="1138.8" y="1130.1">Mörby Centrum</text></g>
<g id="n193"><circle class="s" cx="1142.3" cy="1146.7" r="2"/><text class="e" x="1138.8" y="1148.1">Danderyds Sjukhus</text></g>
<g id="n194"><circle class="s" cx="1142.3" cy="1164.3" r="2"/><text class="e" x="1138.8" y="1165.7">Bergshamra</text></g>
<g id="n195"><rect class="p" x="1133.8" y="1181.8" width="11" height="5" rx="2.5" transform="rotate(-45 1139.3 1184.3)"/><text class="e" x="1138" y="1183.1">Universitetet</text></g>
<g id="n196"><circle class="s" cx="1142.3" cy="1204.3" r="2"/><text class="e" x="1138.8" y="1205.7">Tekniska Högskolan</text></g>
<g id="n197"><circle class="s" cx="1142.3" cy="1217.7" r="2"/><text class="e" x="1138.8" y="1219.1">Stadion</text></g>
<g id="n198"><circle class="s" cx="1155.7" cy="1226.3" r="2"/><text class="m" x="1159" y="1233.3">Karlaplan</text></g>
<g id="n199"><circle class="s" cx="1169" cy="1226.3" r="2"/><text class="m" x="1172.3" y="1222">Gärdet</text></g>
<g id="n200"><rect class="p" x="1179.6" y="1223.8" width="9.4" height="5" rx="2.5"/><text class="m" x="1187.6" y="1233.3">Ropsten</text></g>
<g id="n201"><circle class="s" cx="1200" cy="1226.3" r="2"/><text class="m" x="1203.3" y="1222">Torsvik</text></g>
<g id="n202"><circle class="s" cx="1213.3" cy="1226.3" r="2"/><text class="m" x="1216.6" y="1233.3">Baggeby</text></g>
<g id="n203"><circle class="s" cx="1226.7" cy="1226.3" r="2"/><text class="m" x="1230" y="1222">Bodal</text></g>
<g id="n204"><circle class="s" cx="1240" cy="1226.3" r="2"/><text class="m" x="1243.3" y="1233.3">Larsberg</text></g>
<g id="n205"><circle class="s" cx="1253.3" cy="1226.3" r="2"/><text class="m" x="1256.6" y="1222">AGA</text></g>
<g id="n206"><circle class="s" cx="1266.7" cy="1226.3" r="2"/><text class="m" x="1270" y="1233.3">Skärsätra</text></g>
<g id="n207"><circle class="s" cx="1280" cy="1226.3" r="2"/><text class="m" x="1283.3" y="1222">Kottla</text></g>
<g id="n208"><circle class="s" cx="1293.3" cy="1226.3" r="2"/><text class="m" x="1296.6" y="1233.3">Högberga</text></g>
<g id="n209"><circle class="s" cx="1306.7" cy="1226.3" r="2"/><text class="m" x="1310" y="1222">Brevik</text></g>
<g id="n210"><circle class="s" cx="1320" cy="1226.3" r="2"/><text class="m" x="1323.3" y="1233.3">Käppala</text></g>
<g id="n211"><circle class="s" cx="1333.3" cy="1226.3" r="2"/><text class="m" x="1336.6" y="1222">Gåshaga</text></g>
<g id="n212"><circle class="s" cx="1346.7" cy="1226.3" r="2"/><text class="r" x="1350.4" y="1227.7">Gåshaga Brygga</text></g>
<g id="n213"><circle class="s" cx="1146.7" cy="959.3" r="2"/><text class="r" x="1150.4" y="960.7">Ormsta</text></g>
<g id="n214"><circle class="s" cx="1146.7" cy="973" r="2"/><text class="r" x="1150.4" y="974.4">Vallentuna</text></g>
<g id="n215"><circle class="s" cx="1146.7" cy="986.3" r="2"/><text class="r" x="1150.4" y="987.7">Bällsta</text></g>
<g id="n216"><circle class="s" cx="1146.7" cy="999.7" r="2"/><text class="r" x="1150.4" y="1001.1">Kragstalund</text></g>
<g id="n217"><circle class="s" cx="1146.7" cy="1017.3" r="2"/><text class="r" x="1150.4" y="1018.7">Täby Kyrkby</text></g>
<g id="n218"><circle class="s" cx="1146.7" cy="1030.7" r="2"/><text class="r" x="1150.4" y="1032.1">Visinge</text></g>
<g id="n219"><circle class="s" cx="1146.7" cy="1044" r="2"/><text class="r" x="1150.4" y="1045.4">Ensta</text></g>
<g id="n220"><circle class="s" cx="1146.7" cy="1057.3" r="2"/><text class="r" x="1150.4" y="1058.7">Tibble</text></g>
<g id="n221"><rect class="p" x="1143.5" y="1068.5" width="11" height="5" rx="2.5"/><text class="r" x="1155" y="1072.4">Roslags Näsby</text></g>
<g id="n222"><circle class="s" cx="1151" cy="1084.3" r="2"/><text class="r" x="1154.7" y="1085.7">Enebyberg</text></g>
<g id="n223"><circle class="s" cx="1151" cy="1097.7" r="2"/><text class="r" x="1154.7" y="1099.1">Djursholms Ekeby</text></g>
<g id="n224"><circle class="s" cx="1151" cy="1111" r="2"/><text class="r" x="1154.7" y="1112.4">Bråvallavägen</text></g>
<g id="n225"><rect class="p" x="1144.7" y="1135.2" width="12.6" height="5" rx="2.5"/><text class="r" x="1159" y="1139.1">Djursholms Ösby</text></g>
<g id="n226"><rect class="p" x="1144.7" y="1153.2" width="12.6" height="5" rx="2.5"/><text class="r" x="1159" y="1157.1">Mörby</text></g>
<g id="n227"><circle class="s" cx="1155.7" cy="1168.7" r="2"/><text class="r" x="1159.4" y="1170.1">Stocksund</text></g>
<g id="n228"><circle class="s" cx="1182.3" cy="1062.3" r="2"/><text class="m" x="1185.6" y="1058">Täby Centrum</text></g>
<g id="n229"><circle class="s" cx="1204.3" cy="1062.3" r="2"/><text class="m" x="1207.6" y="1069.3">Galoppfältet</text></g>
<g id="n230"><circle class="s" cx="1217.7" cy="1062.3" r="2"/><text class="m" x="1221" y="1058">Viggbyholm</text></g>
<g id="n231"><circle class="s" cx="1231" cy="1062.3" r="2"/><text class="m" x="1234.3" y="1069.3">Arninge</text></g>
<g id="n232"><circle class="s" cx="1244.3" cy="1062.3" r="2"/><text class="m" x="1247.6" y="1058">Hägernäs</text></g>
<g id="n233"><circle class="s" cx="1257.7" cy="1062.3" r="2"/><text class="m" x="1261" y="1069.3">Rydbo</text></g>
<g id="n234"><circle class="s" cx="1271" cy="1062.3" r="2"/><text class="m" x="1274.3" y="1058">Täljö</text></g>
<g id="n235"><circle class="s" cx="1284.3" cy="1062.3" r="2"/><text class="m" x="1287.6" y="1069.3">Åkers Runö</text></g>
<g id="n236"><circle class="s" cx="1297.7" cy="1062.3" r="2"/><text class="m" x="1301" y="1058">Åkersberga</text></g>
<g id="n237"><circle class="s" cx="1311" cy="1062.3" r="2"/><text class="m" x="1314.3" y="1069.3">Tunagård</text></g>
<g id="n238"><circle class="s" cx="1324.3" cy="1062.3" r="2"/><text class="r" x="1328" y="1063.7">Österskär</text></g>
<g id="n239"><circle class="s" cx="1186.7" cy="1124.3" r="2"/><text class="m" x="1190" y="1120">Vendevägen</text></g>
<g id="n240"><circle class="s" cx="1209" cy="1124.3" r="2"/><text class="m" x="1212.3" y="1131.3">Täbys Östberga</text></g>
<g id="n241"><circle class="s" cx="1231" cy="1124.3" r="2"/><text class="m" x="1234.3" y="1120">Altorp</text></g>
<g id="n242"><circle class="s" cx="1244.3" cy="1124.3" r="2"/><text class="m" x="1247.6" y="1131.3">Lahäll</text></g>
<g id="n243"><circle class="s" cx="1257.7" cy="1124.3" r="2"/><text class="m" x="1261" y="1120">Näsby Allé</text></g>
<g id="n244"><circle class="s" cx="1271" cy="1124.3" r="2"/><text class="r" x="1275" y="1125.7">Näsbypark</text></g>
<g id="n245"><circle class="s" cx="1182.3" cy="955.3" r="2"/><text class="m" x="1185.7" y="962.4">Molnby</text></g>
<g id="n246"><rect class="p" x="1193.2" y="948" width="5" height="9.4" rx="2.5"/><text class="m" x="1199" y="946.7">Lindholmen</text></g>
<g id="n247"><circle class="s" cx="1209" cy="955.3" r="2"/><text class="m" x="1212.3" y="962.4">Prästsunda</text></g>
<g id="n248"><circle class="s" cx="1235.7" cy="955.3" r="2"/><text class="m" x="1239" y="962.4">Ekskogen</text></g>
<g id="n249"><rect class="p" x="1255.2" y="948.3" width="5" height="9.4" rx="2.5"/><text class="m" x="1261" y="946.7">Kårsta</text></g>
<g id="n250"><circle class="s" cx="1280" cy="951" r="2"/><text class="m" x="1283.3" y="946.7">Rimbo</text></g>
<g id="n251"><circle class="s" cx="1306.7" cy="951" r="2"/><text class="m" x="1310" y="946.7">Norrtälje C</text></g>
<g id="n252"><circle class="s" cx="1120" cy="995.3" r="2"/><text class="e" x="1116.7" y="996.7">Arlanda Flygplats</text></g>
<g id="n253"><circle class="s" cx="1075.3" cy="951" r="2"/><text class="r" x="1079" y="952.4">Uppsala Central</text></g>
<g id="n254"><circle class="s" cx="1075.3" cy="968.7" r="2"/><text class="r" x="1079" y="970.1">Knivsta</text></g>
<g id="n255"><circle class="s" cx="1075.3" cy="986.7" r="2"/><text class="r" x="1079" y="988.1">Märsta</text></g>
<g id="n256"><circle class="s" cx="1075.3" cy="1004.3" r="2"/><text class="r" x="1079" y="1005.7">Rosersberg</text></g>
<g id="n257"><circle class="s" cx="1075.3" cy="1022" r="2"/><text class="r" x="1079" y="1023.4">Upplands Väsby</text></g>
<g id="n258"><circle class="s" cx="1075.3" cy="1035.3" r="2"/><text class="r" x="1079" y="1036.7">Rotebro</text></g>
<g id="n259"><circle class="s" cx="1075.3" cy="1048.7" r="2"/><text class="r" x="1079" y="1050.1">Norrviken</text></g>
<g id="n260"><circle class="s" cx="1075.3" cy="1062" r="2"/><text class="r" x="1079" y="1063.4">Häggvik</text></g>
<g id="n261"><circle class="s" cx="1075.3" cy="1075.3" r="2"/><text class="r" x="1079" y="1076.7">Sollentuna</text></g>
<g id="n262"><circle class="s" cx="1075.3" cy="1106.7" r="2"/><text class="r" x="1079" y="1108.1">Ulriksdal</text></g>
<g id="n263"><circle class="s" cx="884.3" cy="951" r="2"/><text class="r" x="888" y="952.4">Bålsta</text></g>
<g id="n264"><circle class="s" cx="884.3" cy="964.3" r="2"/><text class="r" x="888" y="965.7">Bro</text></g>
<g id="n265"><circle class="s" cx="884.3" cy="977.7" r="2"/><text class="r" x="888" y="979.1">Kungsängen</text></g>
<g id="n266"><circle class="s" cx="884.3" cy="991" r="2"/><text class="r" x="888" y="992.4">Kallhäll</text></g>
<g id="n267"><circle class="s" cx="884.3" cy="1004.3" r="2"/><text class="r" x="888" y="1005.7">Jakobsberg</text></g>
<g id="n268"><circle class="s" cx="884.3" cy="1053.3" r="2"/><text class="r" x="888" y="1054.7">Spånga</text></g>
<g id="n269"><circle class="s" cx="915.7" cy="1431" r="2"/><text class="r" x="919.4" y="1432.4">Huddinge</text></g>
<g id="n270"><circle class="s" cx="915.7" cy="1444.3" r="2"/><text class="r" x="919.4" y="1445.7">Flemmingsberg</text></g>
<g id="n271"><circle class="s" cx="915.7" cy="1457.7" r="2"/><text class="r" x="919.4" y="1459.1">Tullinge</text></g>
<g id="n272"><circle class="s" cx="915.7" cy="1471" r="2"/><text class="r" x="919.4" y="1472.4">Tumba</text></g>
<g id="n273"><circle class="s" cx="915.7" cy="1497.7" r="2"/><text class="r" x="919.4" y="1499.1">Östertälje</text></g>
<g id="n274"><rect class="p" x="855.2" y="1504.7" width="5" height="12.6" rx="2.5"/><text class="m" x="860.7" y="1502.4">Södertälje C</text></g>
<g id="n275"><rect class="p" x="881.8" y="1504.7" width="5" height="12.6" rx="2.5"/><text class="m" x="888.3" y="1502.4">Södertälje Hamn</text></g>
<g id="n276"><circle class="s" cx="915.7" cy="1524.3" r="2"/><text class="r" x="919.4" y="1525.7">Södertälje Syd</text></g>
<g id="n277"><circle class="s" cx="915.7" cy="1537.7" r="2"/><text class="r" x="919.4" y="1539.1">Järna</text></g>
<g id="n278"><circle class="s" cx="915.7" cy="1551" r="2"/><text class="r" x="919.4" y="1552.4">Mölnbo</text></g>
<g id="n279"><circle class="s" cx="915.7" cy="1564.3" r="2"/><text class="r" x="919.4" y="1565.7">Gnesta</text></g>
<g id="n280"><circle class="s" cx="1057.7" cy="1520" r="2"/><text class="e" x="1054.3" y="1520.7">Farsta Strand</text></g>
<g id="n281"><circle class="s" cx="1071" cy="1533.3" r="2"/><text class="e" x="1068.3" y="1534.1">Trångsund</text></g>
<g id="n282"><circle class="s" cx="1084.3" cy="1546.7" r="2"/><text class="e" x="1081.7" y="1547.4">Skogås</text></g>
<g id="n283"><circle class="s" cx="1093.3" cy="1555.3" r="2"/><text class="r" x="1096.5" y="1559.5" transform="rotate(45 1096.5 1559.5)">Vega</text></g>
<g id="n284"><rect class="p" x="1113.2" y="1548.3" width="5" height="9.4" rx="2.5"/><text class="r" x="1118.5" y="1559.5" transform="rotate(45 1118.5 1559.5)">Handen</text></g>
<g id="n285"><circle class="s" cx="1137.7" cy="1555.3" r="2"/><text class="r" x="1140.5" y="1559.5" transform="rotate(45 1140.5 1559.5)">Jordbro</text></g>
<g id="n286"><circle class="s" cx="1160" cy="1555.3" r="2"/><text class="r" x="1163" y="1559.5" transform="rotate(45 1163 1559.5)">Västerhaninge</text></g>
<g id="n287"><circle class="s" cx="1186.7" cy="1555.3" r="2"/><text class="r" x="1189.7" y="1559.5" transform="rotate(45 1189.7 1559.5)">Krigslida</text></g>
<g id="n288"><circle class="s" cx="1213.3" cy="1555.3" r="2"/><text class="r" x="1216.3" y="1559.5" transform="rotate(45 1216.3 1559.5)">Tungelsta</text></g>
<g id="n289"><circle class="s" cx="1240" cy="1555.3" r="2"/><text class="r" x="1243" y="1559.5" transform="rotate(45 1243 1559.5)">Hemfosa</text></g>
<g id="n290"><circle class="s" cx="1266.7" cy="1555.3" r="2"/><text class="r" x="1269.7" y="1559.5" transform="rotate(45 1269.7 1559.5)">Segersäng</text></g>
<g id="n291"><circle class="s" cx="1293.3" cy="1555.3" r="2"/><text class="r" x="1296.3" y="1559.5" transform="rotate(45 1296.3 1559.5)">Ösmo</text></g>
<g id="n292"><circle class="s" cx="1320" cy="1555.3" r="2"/><text class="r" x="1323" y="1559.5" transform="rotate(45 1323 1559.5)">Nynäsgård</text></g>
<g id="n293"><circle class="s" cx="1346.7" cy="1555.3" r="2"/><text class="r" x="1349.7" y="1559.5" transform="rotate(45 1349.7 1559.5)">Gröndalsviken</text></g>
<g id="n294"><circle class="s" cx="1373.3" cy="1555.3" r="2"/><text class="r" x="1377" y="1556.7">Nynäshamn</text></g>
<g id="n295"><circle class="s" cx="1240" cy="1320" r="2"/><text class="r" x="1243.7" y="1321.4">Henriksdal</text></g>
<g id="n296"><circle class="s" cx="1240" cy="1382" r="2"/><text class="r" x="1243.7" y="1383.4">Lillängen</text></g>
<g id="n297"><circle class="s" cx="1240" cy="1400" r="2"/><text class="r" x="1243.7" y="1401.4">Storängen</text></g>
<g id="n298"><circle class="s" cx="1240" cy="1413.3" r="2"/><text class="r" x="1243.7" y="1414.7">Saltsjö Duvnäs</text></g>
<g id="n299"><circle class="s" cx="1240" cy="1431" r="2"/><text class="r" x="1243.7" y="1432.4">Fisksätra</text></g>
<g id="n300"><rect class="p" x="1235.2" y="1448.2" width="13" height="5" rx="2.5" transform="rotate(45 1241.7 1450.7)"/><text class="e" x="1237.3" y="1450.1">Igelboda</text></g>
<g id="n301"><circle class="s" cx="1240" cy="1466.7" r="2"/><text class="r" x="1243.7" y="1468.1">Tippen</text></g>
<g id="n302"><circle class="s" cx="1240" cy="1480" r="2"/><text class="r" x="1243.7" y="1481.4">Tattby</text></g>
<g id="n303"><circle class="s" cx="1240" cy="1493.3" r="2"/><text class="r" x="1243.7" y="1494.7">Erstaviksbadet</text></g>
<g id="n304"><circle class="s" cx="1240" cy="1506.7" r="2"/><text class="r" x="1243.7" y="1508.1">Solsidan</text></g>
<g id="n305"><circle class="s" cx="1240" cy="1520" r="2"/><text class="r" x="1243.7" y="1521.4">Gårdviksten</text></g>
<g id="n306"><circle class="s" cx="1240" cy="1533.3" r="2"/><text class="r" x="1243.7" y="1534.7">Älgö</text></g>
<g id="n307"><circle class="s" cx="1306.7" cy="1462" r="2"/><text class="r" x="1310.4" y="1463.4">Neglinge</text></g>
<g id="n308"><circle class="s" cx="1306.7" cy="1475.3" r="2"/><text class="r" x="1310.4" y="1476.7">Ringvägen</text></g>
<g id="n309"><circle class="s" cx="1306.7" cy="1488.7" r="2"/><text class="r" x="1310.4" y="1490.1">Saltsjöbaden</text></g>
</g>
</svg>
